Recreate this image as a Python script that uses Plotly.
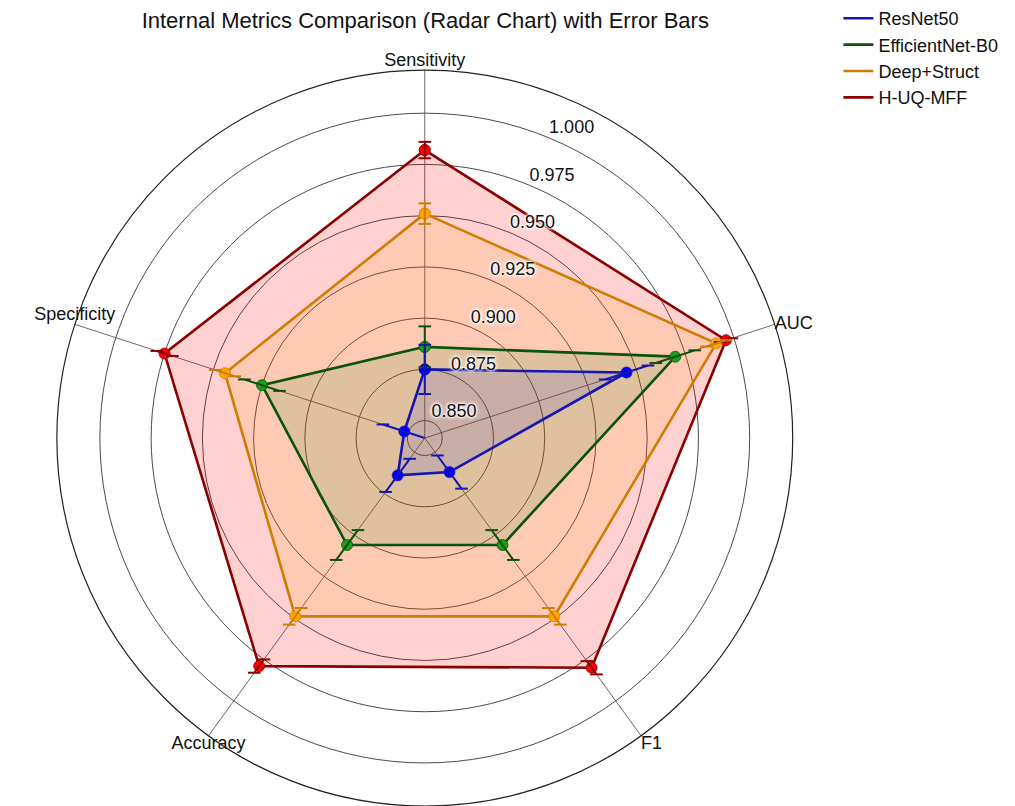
import plotly.graph_objects as go

# Metrics on the radar axes (clockwise from the top)
metrics = ["Sensitivity", "AUC", "F1", "Accuracy", "Specificity"]

# Model names as shown in the legend
models = ["ResNet50", "EfficientNet-B0", "Deep+Struct", "H-UQ-MFF"]

# Mean score per metric
resnet50 = [0.875, 0.945, 0.862, 0.864, 0.852]
effnet_b0 = [0.886, 0.970, 0.906, 0.906, 0.925]
deep_struct = [0.951, 0.991, 0.949, 0.949, 0.944]
huq_mff = [0.982, 0.996, 0.980, 0.979, 0.975]

# Standard deviation per metric (error bars)
resnet50_err = [0.012, 0.011, 0.010, 0.010, 0.011]
effnet_b0_err = [0.010, 0.010, 0.009, 0.009, 0.009]
deep_struct_err = [0.005, 0.005, 0.005, 0.005, 0.005]
huq_mff_err = [0.004, 0.003, 0.004, 0.004, 0.004]

# Radial tick values
radial_ticks = [0.850, 0.875, 0.900, 0.925, 0.950, 0.975, 1.000]

values = [resnet50, effnet_b0, deep_struct, huq_mff]
errors = [resnet50_err, effnet_b0_err, deep_struct_err, huq_mff_err]

line_colors = ["#1515b0", "#0b520b", "#d07c00", "#8b0000"]
marker_colors = ["#0000ff", "#1f9a1f", "#ffa500", "#ff0000"]
fill_colors = ["rgba(0,0,255,0.10)", "rgba(0,128,0,0.12)",
               "rgba(255,165,0,0.14)", "rgba(255,0,0,0.18)"]

n = len(metrics)
angles = [i * 360.0 / n for i in range(n)]

R_MIN, R_MAX = 0.8415, 1.021

# where each metric name sits relative to its spoke end
label_positions = ["top center", "middle right", "bottom right",
                   "bottom center", "top center"]

font_family = "Liberation Sans, Arial, sans-serif"
halo = "0 0 3px white, 0 0 3px white, 0 0 4px white, 0 0 4px white"

fig = go.Figure()

# Filled polygons with markers; largest first so smaller ones stay visible
for i in reversed(range(len(models))):
    vals = values[i]
    fig.add_trace(go.Scatterpolar(
        r=vals + vals[:1],
        theta=angles + angles[:1],
        mode="lines+markers",
        fill="toself",
        fillcolor=fill_colors[i],
        line=dict(color=line_colors[i], width=2.6),
        marker=dict(size=11, color=marker_colors[i],
                    line=dict(color=line_colors[i], width=0.8)),
        name=models[i],
        showlegend=False,
        hoverinfo="skip",
    ))

# Radial error bars with horizontal caps
for i in reversed(range(len(models))):
    rr, tt = [], []
    for v, e, a in zip(values[i], errors[i], angles):
        rr += [v - e, v + e, None]
        tt += [a, a, None]
    fig.add_trace(go.Scatterpolar(
        r=rr, theta=tt,
        mode="lines+markers",
        line=dict(color=line_colors[i], width=2),
        marker=dict(symbol="line-ew", size=9,
                    line=dict(color=line_colors[i], width=2)),
        showlegend=False,
        hoverinfo="skip",
    ))

# Legend entries (line only)
for name, lc in zip(models, line_colors):
    fig.add_trace(go.Scatterpolar(
        r=[None], theta=[None],
        mode="lines",
        line=dict(color=lc, width=2.6),
        name=name,
        showlegend=True,
    ))

# Radial tick labels with a white halo
fig.add_trace(go.Scatterpolar(
    r=radial_ticks,
    theta=[22.5] * len(radial_ticks),
    mode="text",
    text=[f"{t:.3f}" for t in radial_ticks],
    textposition="top right",
    textfont=dict(family=font_family, size=18, color="#111111", shadow=halo),
    showlegend=False,
    hoverinfo="skip",
))

# Metric names at the ends of the spokes
fig.add_trace(go.Scatterpolar(
    r=[R_MAX] * n,
    theta=angles,
    mode="text",
    text=metrics,
    textposition=label_positions,
    textfont=dict(family=font_family, size=18, color="#111111"),
    cliponaxis=False,
    showlegend=False,
    hoverinfo="skip",
))

fig.update_layout(
    width=1015,
    height=806,
    margin=dict(l=0, r=0, t=0, b=0),
    paper_bgcolor="white",
    font=dict(family=font_family, size=18, color="#111111"),
    title=dict(
        text="Internal Metrics Comparison (Radar Chart) with Error Bars",
        x=0.419, xanchor="center",
        y=0.975, yanchor="middle",
        font=dict(family=font_family, size=22, color="#111111"),
    ),
    polar=dict(
        domain=dict(x=[0.056, 0.781], y=[0.0, 0.913]),
        bgcolor="white",
        radialaxis=dict(
            range=[R_MIN, R_MAX],
            tickvals=radial_ticks,
            showticklabels=False,
            ticks="",
            showline=False,
            gridcolor="#4a4a4a",
            gridwidth=1,
        ),
        angularaxis=dict(
            rotation=90,
            direction="clockwise",
            tickmode="array",
            tickvals=angles,
            ticktext=metrics,
            showticklabels=False,
            ticks="",
            showline=True,
            linecolor="#222222",
            linewidth=1.2,
            gridcolor="#6a6a6a",
            gridwidth=1,
        ),
    ),
    legend=dict(
        x=0.826, y=1.0, xanchor="left", yanchor="top",
        bgcolor="rgba(0,0,0,0)",
        font=dict(family=font_family, size=18, color="#111111"),
        tracegroupgap=0,
    ),
)

fig.write_html("out.html")
